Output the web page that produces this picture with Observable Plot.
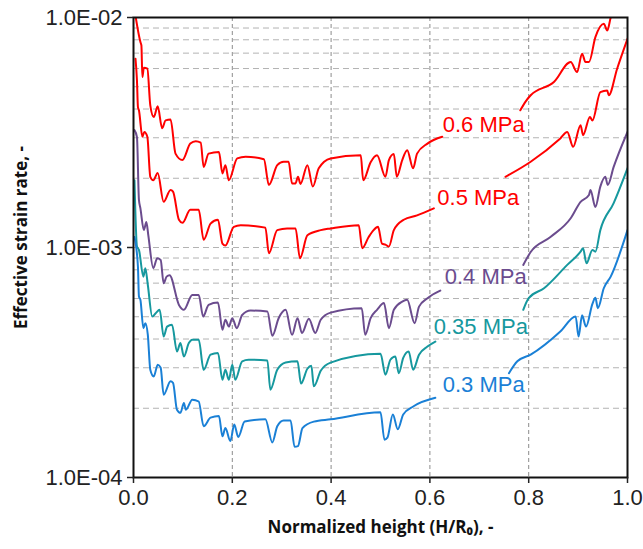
<!DOCTYPE html>
<html>
<head>
<meta charset="utf-8">
<script src="https://cdn.jsdelivr.net/npm/d3@7"></script>
<script src="https://cdn.jsdelivr.net/npm/@observablehq/plot@0.6"></script>
<style>
  html, body { margin: 0; padding: 0; background: #fff; }
</style>
</head>
<body>
<div id="chart"></div>
<script>
// ---- tick values / labels ----
const xTicks = [0, 0.2, 0.4, 0.6, 0.8, 1.0];
const yTicks = [1e-4, 1e-3, 1e-2];
const xGrid = [0.2, 0.4, 0.6, 0.8];
const yGrid = [2e-4, 3e-4, 4e-4, 5e-4, 6e-4, 7e-4, 8e-4, 9e-4, 1e-3,
               2e-3, 3e-3, 4e-3, 5e-3, 6e-3, 7e-3, 8e-3, 9e-3];
const xTitle = "Normalized height (H/R\u2080), -";
const yTitle = "Effective strain rate, -";

// ---- series: [normalized height, effective strain rate] ----
const s06Left = [[0.003,1.05e-2],[0.014,7.82e-3],[0.016,7.56e-3],[0.018,5.51e-3],[0.021,6.05e-3],[0.028,5.99e-3],
  [0.034,4.15e-3],[0.041,3.69e-3],[0.049,4.11e-3],[0.058,3.30e-3],[0.065,3.57e-3],[0.075,3.60e-3],[0.085,2.56e-3],
  [0.099,2.40e-3],[0.115,2.83e-3],[0.126,2.90e-3],[0.136,2.86e-3],[0.142,2.24e-3],[0.152,2.56e-3],[0.173,2.60e-3],
  [0.180,2.10e-3],[0.186,2.28e-3],[0.193,1.96e-3],[0.210,2.44e-3],[0.227,2.48e-3],[0.264,2.42e-3],[0.274,1.87e-3],
  [0.291,2.28e-3],[0.304,2.36e-3],[0.314,2.36e-3],[0.321,1.90e-3],[0.328,1.90e-3],[0.333,2.03e-3],[0.338,1.89e-3],
  [0.352,2.28e-3],[0.363,1.84e-3],[0.375,2.21e-3],[0.399,2.44e-3],[0.460,2.52e-3],[0.465,1.96e-3],[0.480,2.35e-3],
  [0.493,2.52e-3],[0.510,2.03e-3],[0.517,2.40e-3],[0.527,2.55e-3],[0.533,2.03e-3],[0.544,2.40e-3],[0.554,2.65e-3],
  [0.566,2.21e-3],[0.574,2.56e-3],[0.595,2.83e-3],[0.625,3.03e-3]];
const s06Right = [[0.783,3.95e-3],[0.794,4.32e-3],[0.804,4.59e-3],[0.851,5.24e-3],[0.885,6.40e-3],[0.898,5.79e-3],
  [0.908,6.96e-3],[0.915,6.40e-3],[0.922,6.40e-3],[0.935,8.21e-3],[0.952,9.39e-3],[0.959,8.78e-3],[0.966,1.0e-2],
  [0.972,1.09e-2]];

const s05Left = [[0.004,6.62e-3],[0.007,5.33e-3],[0.009,4.08e-3],[0.011,3.95e-3],[0.018,3.03e-3],[0.022,3.18e-3],
  [0.028,3.03e-3],[0.034,2.03e-3],[0.040,1.96e-3],[0.049,2.11e-3],[0.061,1.58e-3],[0.075,1.78e-3],[0.080,1.75e-3],
  [0.092,1.32e-3],[0.099,1.28e-3],[0.115,1.46e-3],[0.132,1.46e-3],[0.142,1.08e-3],[0.156,1.27e-3],[0.171,1.32e-3],
  [0.180,1.04e-3],[0.186,1.02e-3],[0.203,1.23e-3],[0.217,1.25e-3],[0.267,1.22e-3],[0.274,9.44e-4],[0.291,1.19e-3],
  [0.311,1.21e-3],[0.328,1.21e-3],[0.337,8.98e-4],[0.352,1.13e-3],[0.379,1.19e-3],[0.399,1.21e-3],[0.456,1.25e-3],
  [0.463,9.92e-4],[0.476,1.11e-3],[0.486,1.19e-3],[0.495,1.23e-3],[0.503,1.04e-3],[0.510,1.03e-3],[0.517,1.01e-3],
  [0.527,1.19e-3],[0.547,1.32e-3],[0.574,1.38e-3],[0.608,1.48e-3]];
const s05Right = [[0.753,2.03e-3],[0.804,2.36e-3],[0.864,2.98e-3],[0.878,3.18e-3],[0.890,2.74e-3],[0.905,3.40e-3],
  [0.910,3.08e-3],[0.924,3.69e-3],[0.929,3.57e-3],[0.945,4.74e-3],[0.959,4.82e-3],[0.962,4.59e-3],[0.979,5.99e-3],
  [1.0,8.08e-3]];

const s04Left = [[0.002,3.24e-3],[0.007,3.02e-3],[0.011,1.61e-3],[0.014,1.48e-3],[0.021,1.19e-3],[0.026,1.29e-3],
  [0.030,1.13e-3],[0.040,8.13e-4],[0.048,8.98e-4],[0.055,8.83e-4],[0.061,6.99e-4],[0.067,7.47e-4],[0.073,7.58e-4],
  [0.092,5.63e-4],[0.102,5.36e-4],[0.119,6.22e-4],[0.132,6.22e-4],[0.141,5.01e-4],[0.152,5.63e-4],[0.171,5.76e-4],
  [0.180,4.39e-4],[0.186,4.85e-4],[0.193,4.53e-4],[0.200,4.93e-4],[0.209,4.46e-4],[0.220,5.09e-4],[0.237,5.32e-4],
  [0.271,5.27e-4],[0.281,4.13e-4],[0.294,4.94e-4],[0.308,5.36e-4],[0.321,4.17e-4],[0.332,4.93e-4],[0.341,4.25e-4],
  [0.355,4.90e-4],[0.368,4.25e-4],[0.379,4.85e-4],[0.399,5.21e-4],[0.462,5.45e-4],[0.469,4.17e-4],[0.480,4.93e-4],
  [0.493,5.36e-4],[0.507,5.73e-4],[0.517,4.46e-4],[0.527,5.36e-4],[0.544,5.82e-4],[0.554,5.92e-4],[0.569,4.69e-4],
  [0.578,5.53e-4],[0.595,6.02e-4],[0.621,6.50e-4]];
const s04Right = [[0.789,8.40e-4],[0.804,9.56e-4],[0.844,1.11e-3],[0.885,1.34e-3],[0.905,1.58e-3],[0.922,1.69e-3],
  [0.925,1.78e-3],[0.935,1.50e-3],[0.945,1.84e-3],[0.955,2.03e-3],[0.960,1.87e-3],[0.972,2.24e-3],[1.0,3.18e-3]];

const s035Left = [[0.002,1.96e-3],[0.007,1.01e-3],[0.011,9.76e-4],[0.020,7.47e-4],[0.024,8.13e-4],[0.029,6.87e-4],
  [0.038,5.01e-4],[0.045,5.18e-4],[0.053,5.36e-4],[0.061,4.10e-4],[0.068,4.53e-4],[0.078,4.61e-4],[0.088,3.53e-4],
  [0.095,3.84e-4],[0.102,3.36e-4],[0.112,3.84e-4],[0.119,3.97e-4],[0.132,3.97e-4],[0.142,2.94e-4],[0.156,3.42e-4],
  [0.171,3.48e-4],[0.180,2.66e-4],[0.186,2.94e-4],[0.193,2.66e-4],[0.200,3.09e-4],[0.206,2.66e-4],[0.220,3.20e-4],
  [0.233,3.25e-4],[0.271,3.23e-4],[0.277,2.41e-4],[0.291,2.94e-4],[0.308,3.16e-4],[0.332,3.20e-4],[0.339,2.56e-4],
  [0.352,2.97e-4],[0.360,3.06e-4],[0.365,2.49e-4],[0.379,2.91e-4],[0.399,3.16e-4],[0.500,3.45e-4],[0.510,2.80e-4],
  [0.520,3.25e-4],[0.530,3.36e-4],[0.537,2.84e-4],[0.546,3.31e-4],[0.557,3.53e-4],[0.566,2.94e-4],[0.578,3.42e-4],
  [0.595,3.71e-4],[0.611,3.90e-4]];
const s035Right = [[0.789,5.36e-4],[0.800,6.02e-4],[0.831,6.65e-4],[0.878,8.40e-4],[0.905,9.59e-4],[0.910,9.92e-4],
  [0.917,8.54e-4],[0.929,9.76e-4],[0.935,9.59e-4],[0.945,1.19e-3],[0.972,1.56e-3],[1.0,2.21e-3]];

const s03Left = [[0.002,1.11e-3],[0.009,8.25e-4],[0.011,6.12e-4],[0.014,5.92e-4],[0.020,4.46e-4],[0.024,4.69e-4],
  [0.029,4.17e-4],[0.034,2.94e-4],[0.041,2.75e-4],[0.049,3.09e-4],[0.055,3.00e-4],[0.061,2.29e-4],[0.075,2.62e-4],
  [0.080,2.58e-4],[0.088,1.97e-4],[0.095,1.91e-4],[0.102,2.11e-4],[0.106,1.97e-4],[0.119,2.18e-4],[0.132,2.14e-4],
  [0.142,1.67e-4],[0.156,1.82e-4],[0.173,1.85e-4],[0.180,1.51e-4],[0.186,1.64e-4],[0.196,1.44e-4],[0.204,1.70e-4],
  [0.212,1.50e-4],[0.225,1.75e-4],[0.267,1.79e-4],[0.281,1.42e-4],[0.291,1.67e-4],[0.304,1.77e-4],[0.318,1.77e-4],
  [0.326,1.36e-4],[0.333,1.37e-4],[0.342,1.64e-4],[0.365,1.75e-4],[0.399,1.79e-4],[0.500,1.92e-4],[0.508,1.46e-4],
  [0.514,1.49e-4],[0.525,1.88e-4],[0.535,1.62e-4],[0.546,1.88e-4],[0.567,2.04e-4],[0.611,2.22e-4]];
const s03Right = [[0.760,2.84e-4],[0.777,3.20e-4],[0.804,3.42e-4],[0.864,4.31e-4],[0.895,5.01e-4],[0.901,4.10e-4],
  [0.908,5.07e-4],[0.916,4.53e-4],[0.929,5.69e-4],[0.935,6.04e-4],[0.940,5.45e-4],[0.952,6.65e-4],[0.966,7.47e-4],
  [1.0,1.19e-3]];

// ---- series labels ----
const seriesNames = ["0.6 MPa", "0.5 MPa", "0.4 MPa", "0.35 MPa", "0.3 MPa"];
const labelX = [0.709, 0.698, 0.713, 0.703, 0.709];
const labelY = [3.40e-3, 1.64e-3, 7.45e-4, 4.52e-4, 2.53e-4];

const colors = ["#ff0000", "#ff0000", "#6b4c8e", "#16989e", "#1a80d6"];
const segments = [[s06Left, s06Right], [s05Left, s05Right], [s04Left, s04Right], [s035Left, s035Right], [s03Left, s03Right]];

const fmtE = d => {
  const e = Math.round(Math.log10(d));
  return "1.0E" + (e < 0 ? "-" : "+") + String(Math.abs(e)).padStart(2, "0");
};

const lineMarks = [];
segments.forEach((segs, i) => {
  segs.forEach(seg => {
    lineMarks.push(Plot.line(seg, {x: d => d[0], y: d => d[1], stroke: colors[i], strokeWidth: 2,
      curve: "monotone-x", clip: true}));
  });
});

const labels = seriesNames.map((t, i) => ({t, x: labelX[i], y: labelY[i], c: colors[i]}));

const chart = Plot.plot({
  width: 643,
  height: 549,
  marginLeft: 133,
  marginRight: 16,
  marginTop: 17,
  marginBottom: 72,
  style: {fontFamily: "'Liberation Sans', Arial, sans-serif", fontSize: "22px", color: "#222", background: "#fff", overflow: "visible"},
  x: {domain: [0, 1], label: null},
  y: {type: "log", domain: [1e-4, 1e-2], label: null},
  marks: [
    Plot.ruleY(yGrid, {stroke: "#b3b3b3", strokeWidth: 1, strokeDasharray: "6,4"}),
    Plot.ruleX(xGrid, {stroke: "#8c8c8c", strokeWidth: 1, strokeDasharray: "4,3"}),
    ...lineMarks,
    Plot.frame({stroke: "#111", strokeWidth: 2}),
    Plot.axisX(xTicks, {tickSize: 6, tickPadding: 6, strokeWidth: 1.5, tickFormat: d3.format(".1f"), fontSize: 22, label: null}),
    Plot.axisY(yTicks, {tickSize: 6, tickPadding: 5, strokeWidth: 1.5, tickFormat: fmtE, fontSize: 22, label: null}),
    Plot.text(labels, {x: "x", y: "y", text: "t", fill: d => d.c, fontSize: 22, textAnchor: "middle"}),
    Plot.text([xTitle], {frameAnchor: "bottom", dy: 50, textAnchor: "middle", lineAnchor: "middle",
      fontWeight: "bold", fontSize: 17, fontFamily: "'Open Sans', sans-serif", fill: "#111"}),
    Plot.text([yTitle], {frameAnchor: "left", dx: -112, dy: -10, rotate: -90, textAnchor: "middle", lineAnchor: "middle",
      fontWeight: "bold", fontSize: 17, fontFamily: "'Open Sans', sans-serif", fill: "#111"})
  ]
});
document.getElementById("chart").appendChild(chart);
</script>
</body>
</html>
